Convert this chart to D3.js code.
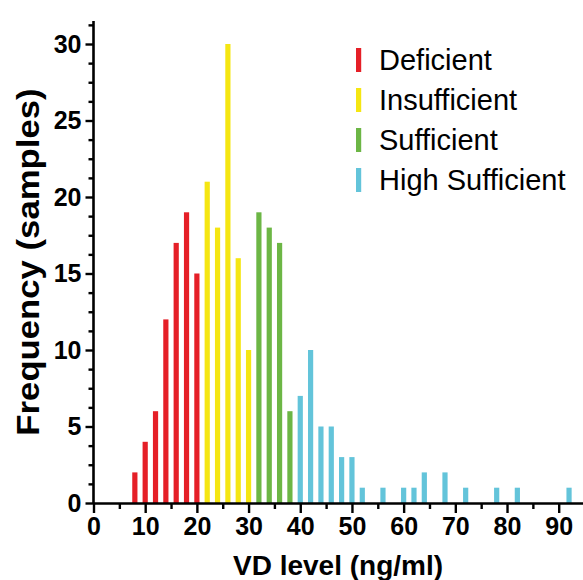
<!DOCTYPE html>
<html>
<head>
<meta charset="utf-8">
<script src="https://cdn.jsdelivr.net/npm/d3@7"></script>
<style>
  body { margin: 0; background: #fff; }
  svg { display: block; }
</style>
</head>
<body>
<div id="root"></div>
<script>
// VD level bins (ng/ml) and how many samples fall in each
const vdLevels = [8, 10, 12, 14, 16, 18, 20, 22, 24, 26, 28, 30, 32, 34, 36, 38,
  40, 42, 44, 46, 48, 50, 52, 56, 60, 62, 64, 68, 72, 78, 82, 92];
const counts = [2, 4, 6, 12, 17, 19, 15, 21, 18, 30, 16, 10, 19, 18, 17, 6,
  7, 10, 5, 5, 3, 3, 1, 1, 1, 1, 2, 2, 1, 1, 1, 1];
// status group of each bin
const groups = ["Deficient", "Deficient", "Deficient", "Deficient", "Deficient", "Deficient", "Deficient",
  "Insufficient", "Insufficient", "Insufficient", "Insufficient", "Insufficient",
  "Sufficient", "Sufficient", "Sufficient", "Sufficient",
  "High Sufficient", "High Sufficient", "High Sufficient", "High Sufficient", "High Sufficient",
  "High Sufficient", "High Sufficient", "High Sufficient", "High Sufficient", "High Sufficient",
  "High Sufficient", "High Sufficient", "High Sufficient", "High Sufficient", "High Sufficient",
  "High Sufficient"];
const legendNames = ["Deficient", "Insufficient", "Sufficient", "High Sufficient"];
const legendColors = ["#e51f27", "#f5e612", "#6cb645", "#63c4da"];
const xTicks = [0, 10, 20, 30, 40, 50, 60, 70, 80, 90];
const yTicks = [0, 5, 10, 15, 20, 25, 30];

const W = 583, H = 580;
const margin = { left: 93.5, right: 0, top: 21, bottom: 77 };

const svg = d3.select("#root").append("svg")
  .attr("width", W)
  .attr("height", H);

const x = d3.scaleLinear().domain([0, 94.7]).range([margin.left, W - margin.right]);
const y = d3.scaleLinear().domain([0, 30]).range([503, 44]);
const color = d3.scaleOrdinal().domain(legendNames).range(legendColors);

const data = vdLevels.map((v, i) => ({ v: v, n: counts[i], g: groups[i] }));
const barW = 5.2;

// bars
svg.append("g").selectAll("rect")
  .data(data)
  .enter()
  .append("rect")
  .attr("x", d => x(d.v) - barW / 2)
  .attr("y", d => y(d.n))
  .attr("width", barW)
  .attr("height", d => y(0) - y(d.n))
  .attr("fill", d => color(d.g));

const font = "'Liberation Sans', Arial, Helvetica, sans-serif";

// x axis
svg.append("g")
  .attr("transform", "translate(0," + y(0) + ")")
  .call(d3.axisBottom(x).tickValues(xTicks).tickSize(10).tickPadding(4).tickSizeOuter(0));
svg.append("g")
  .attr("transform", "translate(0," + y(0) + ")")
  .call(d3.axisBottom(x).tickValues(d3.range(5, 95, 10)).tickSize(6).tickFormat("").tickSizeOuter(0))
  .select(".domain").remove();

// y axis
const yTop = 31.5;
const yAxis = svg.append("g")
  .attr("transform", "translate(" + x(0) + ",0)")
  .call(d3.axisLeft(y).tickValues(yTicks).tickSize(8).tickPadding(4).tickSizeOuter(0));
yAxis.select(".domain").attr("d", "M0," + y(yTop) + "V" + y(0));
svg.append("g")
  .attr("transform", "translate(" + x(0) + ",0)")
  .call(d3.axisLeft(y).tickValues(d3.range(1.25, yTop, 1.25).filter(v => v % 5 !== 0)).tickSize(5).tickFormat("").tickSizeOuter(0))
  .select(".domain").remove();

svg.selectAll(".domain").attr("stroke", "#000").attr("stroke-width", 2.6);
svg.selectAll(".tick line").attr("stroke", "#000").attr("stroke-width", 2.4);
svg.selectAll(".tick text")
  .attr("fill", "#000")
  .style("font-family", font)
  .style("font-weight", "bold")
  .style("font-size", "25px");

// axis titles
svg.append("text")
  .attr("x", 338)
  .attr("y", 575)
  .attr("text-anchor", "middle")
  .style("font-family", font)
  .style("font-weight", "bold")
  .style("font-size", "28px")
  .text("VD level (ng/ml)");

svg.append("text")
  .attr("transform", "translate(39,262) rotate(-90) scale(1.12,1)")
  .attr("text-anchor", "middle")
  .style("font-family", font)
  .style("font-weight", "bold")
  .style("font-size", "31px")
  .text("Frequency (samples)");

// legend
const legend = svg.append("g").selectAll("g")
  .data(legendNames)
  .enter()
  .append("g")
  .attr("transform", (d, i) => "translate(356," + (70 + i * 40) + ")");

legend.append("rect")
  .attr("x", 0)
  .attr("y", -22)
  .attr("width", barW)
  .attr("height", 24)
  .attr("fill", d => color(d));

legend.append("text")
  .attr("x", 23)
  .attr("y", 0)
  .style("font-family", font)
  .style("font-size", "29px")
  .attr("fill", "#000")
  .text(d => d);
</script>
</body>
</html>
